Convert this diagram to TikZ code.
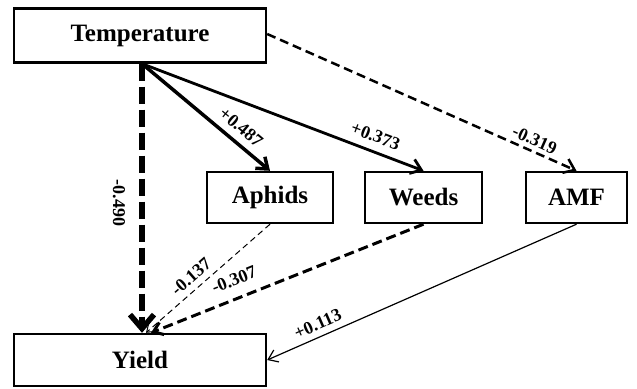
\documentclass[tikz,border=0pt]{standalone}
\usepackage{fontspec}
\setmainfont{Liberation Serif}
\usetikzlibrary{arrows.meta}
\begin{document}
\begin{tikzpicture}[x=1bp,y=-1bp,
  box/.style={draw,line width=2.4bp,inner sep=0pt,font=\fontsize{25bp}{29bp}\selectfont\bfseries},
  labfont/.style={font=\fontsize{18bp}{21bp}\selectfont\bfseries,inner sep=1bp},
  lab/.style={labfont,sloped},
  tip/.style={-{Straight Barb[length=10bp,width=15bp]}},
  bigtip/.style={-{Straight Barb[length=14bp,width=24bp]}},
  smalltip/.style={-{Straight Barb[length=9bp,width=13bp]}}]
\useasboundingbox (0,0) rectangle (637,388);
\node[box,minimum width=252bp,minimum height=54bp] (T) at (140,35.5) {Temperature};
\node[box,minimum width=126bp,minimum height=51bp] (A) at (270,197.5) {Aphids};
\node[box,minimum width=117bp,minimum height=51bp] (W) at (423.5,197.5) {Weeds};
\node[box,minimum width=101bp,minimum height=51bp] (M) at (576.5,197.5) {AMF};
\node[box,minimum width=252bp,minimum height=52bp] (Y) at (140,360) {Yield};
% Temperature -> Yield
\draw[bigtip,line width=5.5bp,dash pattern=on 17bp off 6bp] ([xshift=2bp]T.south) -- ([xshift=2bp]Y.north);
\node[labfont,rotate=-90] (l1) at (119,203) {-0.490};
% Temperature -> Aphids
\draw[tip,line width=3.5bp] ([xshift=2bp]T.south) -- (A.north)
  node[lab,pos=0.70,above=6bp] (l2) {+0.487};
% Temperature -> Weeds
\draw[tip,line width=2.8bp] ([xshift=2bp]T.south) -- (W.north)
  node[lab,pos=0.81,above=7bp] (l3) {+0.373};
% Temperature -> AMF
\draw[tip,line width=2.5bp,dash pattern=on 9bp off 5bp] ([yshift=1.5bp]T.east) -- (M.north)
  node[lab,pos=0.85,above=3bp] (l4) {-0.319};
% Aphids -> Yield
\draw[smalltip,line width=1bp,dash pattern=on 6bp off 4bp] (A.south) -- ([xshift=6bp]Y.north)
  node[lab,pos=0.57,above=5bp] (l5) {-0.137};
% Weeds -> Yield
\draw[smalltip,line width=3bp,dash pattern=on 10bp off 5bp] (W.south) -- ([xshift=11bp]Y.north)
  node[lab,pos=0.67,above=10bp] (l6) {-0.307};
% AMF -> Yield
\draw[smalltip,line width=1.2bp] (M.south) -- (Y.east)
  node[lab,pos=0.82,above=5bp] (l7) {+0.113};
\end{tikzpicture}
\end{document}
